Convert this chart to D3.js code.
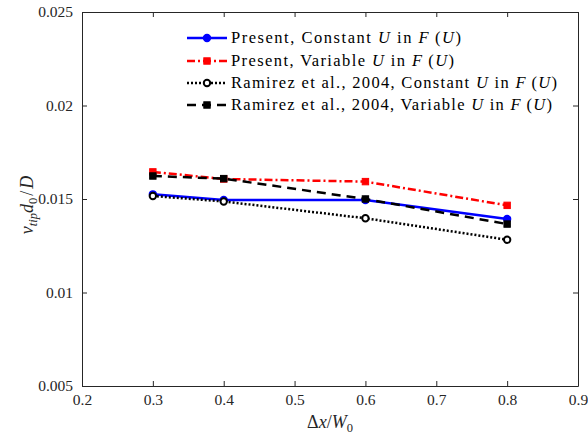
<!DOCTYPE html>
<html>
<head>
<meta charset="utf-8">
<script src="https://cdn.jsdelivr.net/npm/d3@7"></script>
<style>
  body { margin: 0; background: #fff; }
</style>
</head>
<body>
<div id="chart"></div>
<script>
// data
const xValues = [0.3, 0.4, 0.6, 0.8];
const presentConstant = [0.01525, 0.01495, 0.01495, 0.01393];
const presentVariable = [0.01645, 0.01607, 0.01593, 0.01466];
const ramirezConstant = [0.01516, 0.01487, 0.01397, 0.01282];
const ramirezVariable = [0.01623, 0.01609, 0.01500, 0.01366];
const xTicks = [0.2, 0.3, 0.4, 0.5, 0.6, 0.7, 0.8, 0.9];
const yTicks = [0.005, 0.01, 0.015, 0.02, 0.025];
const seriesNames = [
  ['Present, Constant ', 'U', ' in ', 'F', '\u2009(', 'U', ')'],
  ['Present, Variable ', 'U', ' in ', 'F', '\u2009(', 'U', ')'],
  ['Ramirez et al., 2004, Constant ', 'U', ' in ', 'F', '\u2009(', 'U', ')'],
  ['Ramirez et al., 2004, Variable ', 'U', ' in ', 'F', '\u2009(', 'U', ')']
];

const FONT = "'Liberation Serif', 'DejaVu Serif', serif";
const W = 588, H = 439;
const m = { left: 82, right: 10, top: 12, bottom: 53 };

const svg = d3.select('#chart').append('svg')
  .attr('width', W).attr('height', H)
  .style('font-family', FONT);

const x = d3.scaleLinear().domain([0.2, 0.9]).range([m.left, W - m.right]);
const y = d3.scaleLinear().domain([0.005, 0.025]).range([H - m.bottom, m.top]);

// axes, ticks pointing inward on all four sides
const fmtY = d => String(+d.toFixed(3));
svg.append('g')
  .attr('transform', `translate(0,${H - m.bottom})`)
  .call(d3.axisBottom(x).tickValues(xTicks).tickSizeInner(-5).tickSizeOuter(0).tickPadding(8).tickFormat(d => d.toFixed(1)));
svg.append('g')
  .attr('transform', `translate(0,${m.top})`)
  .call(d3.axisTop(x).tickValues(xTicks).tickSizeInner(-5).tickSizeOuter(0).tickFormat(''));
svg.append('g')
  .attr('transform', `translate(${m.left},0)`)
  .call(d3.axisLeft(y).tickValues(yTicks).tickSizeInner(-5).tickSizeOuter(0).tickPadding(9).tickFormat(fmtY));
svg.append('g')
  .attr('transform', `translate(${W - m.right},0)`)
  .call(d3.axisRight(y).tickValues(yTicks).tickSizeInner(-5).tickSizeOuter(0).tickFormat(''));

svg.selectAll('g').attr('font-family', FONT);
svg.selectAll('.domain').attr('stroke', '#262626');
svg.selectAll('.tick line').attr('stroke', '#262626');
svg.selectAll('.tick text').attr('font-size', 15.5).attr('fill', '#262626')
  .style('font-family', FONT);

const styles = [
  { data: presentConstant, color: '#0000ff', dash: null, marker: 'circleFilled' },
  { data: presentVariable, color: '#ff0000', dash: '8,3,2,3', marker: 'square' },
  { data: ramirezConstant, color: '#000000', dash: '2,2', marker: 'circle' },
  { data: ramirezVariable, color: '#000000', dash: '9,6', marker: 'square' }
];

const line = d3.line().x(d => x(d[0])).y(d => y(d[1]));

function drawMarker(g, kind, cx, cy, color) {
  if (kind === 'square') {
    g.append('rect').attr('x', cx - 3.2).attr('y', cy - 3.2).attr('width', 6.4).attr('height', 6.4)
      .attr('fill', color).attr('stroke', color).attr('stroke-width', 1);
  } else {
    g.append('circle').attr('cx', cx).attr('cy', cy).attr('r', 3.2)
      .attr('fill', kind === 'circleFilled' ? color : '#fff')
      .attr('stroke', color).attr('stroke-width', 2);
  }
}

styles.forEach(s => {
  const pts = xValues.map((v, i) => [v, s.data[i]]);
  svg.append('path').datum(pts)
    .attr('d', line).attr('fill', 'none')
    .attr('stroke', s.color).attr('stroke-width', 2.5)
    .attr('stroke-dasharray', s.dash);
  const g = svg.append('g');
  pts.forEach(p => drawMarker(g, s.marker, x(p[0]), y(p[1]), s.color));
});

// legend
const legend = svg.append('g');
const rowY = [38, 61, 83, 105];
const rowWidth = [230, 223, 326, 321];
styles.forEach((s, i) => {
  legend.append('line')
    .attr('x1', 187).attr('x2', 227).attr('y1', rowY[i]).attr('y2', rowY[i])
    .attr('stroke', s.color).attr('stroke-width', 2.5)
    .attr('stroke-dasharray', s.dash);
  drawMarker(legend, s.marker, 207, rowY[i], s.color);
  const t = legend.append('text')
    .attr('x', 231).attr('y', rowY[i] + 5)
    .attr('font-size', 16.5).attr('fill', '#000')
    .style('font-family', FONT)
    .attr('textLength', rowWidth[i]).attr('lengthAdjust', 'spacing');
  seriesNames[i].forEach(part => {
    const italic = part === 'U' || part === 'F';
    t.append('tspan').text(part)
      .attr('font-style', italic ? 'italic' : null);
  });
});

// axis labels
const xl = svg.append('text')
  .attr('x', (m.left + W - m.right) / 2).attr('y', 428)
  .attr('text-anchor', 'middle').attr('font-size', 18).attr('fill', '#262626')
  .style('font-family', FONT);
xl.append('tspan').text('\u0394');
xl.append('tspan').text('x').attr('font-style', 'italic');
xl.append('tspan').text('/');
xl.append('tspan').text('W').attr('font-style', 'italic');
xl.append('tspan').text('0').attr('font-size', 12.5).attr('dy', 4);

const yl = svg.append('text')
  .attr('transform', `translate(33,${(m.top + H - m.bottom) / 2 + 6}) rotate(-90)`)
  .attr('text-anchor', 'middle').attr('font-size', 18).attr('fill', '#262626')
  .style('font-family', FONT);
yl.append('tspan').text('v').attr('font-style', 'italic');
yl.append('tspan').text('tip').attr('font-style', 'italic').attr('font-size', 12.5).attr('dy', 4);
yl.append('tspan').text('d').attr('font-style', 'italic').attr('dy', -4);
yl.append('tspan').text('0').attr('font-size', 12.5).attr('dy', 4);
yl.append('tspan').text('/').attr('dy', -4).attr('dx', 2);
yl.append('tspan').text('D').attr('font-style', 'italic').attr('dx', 2);
</script>
</body>
</html>
